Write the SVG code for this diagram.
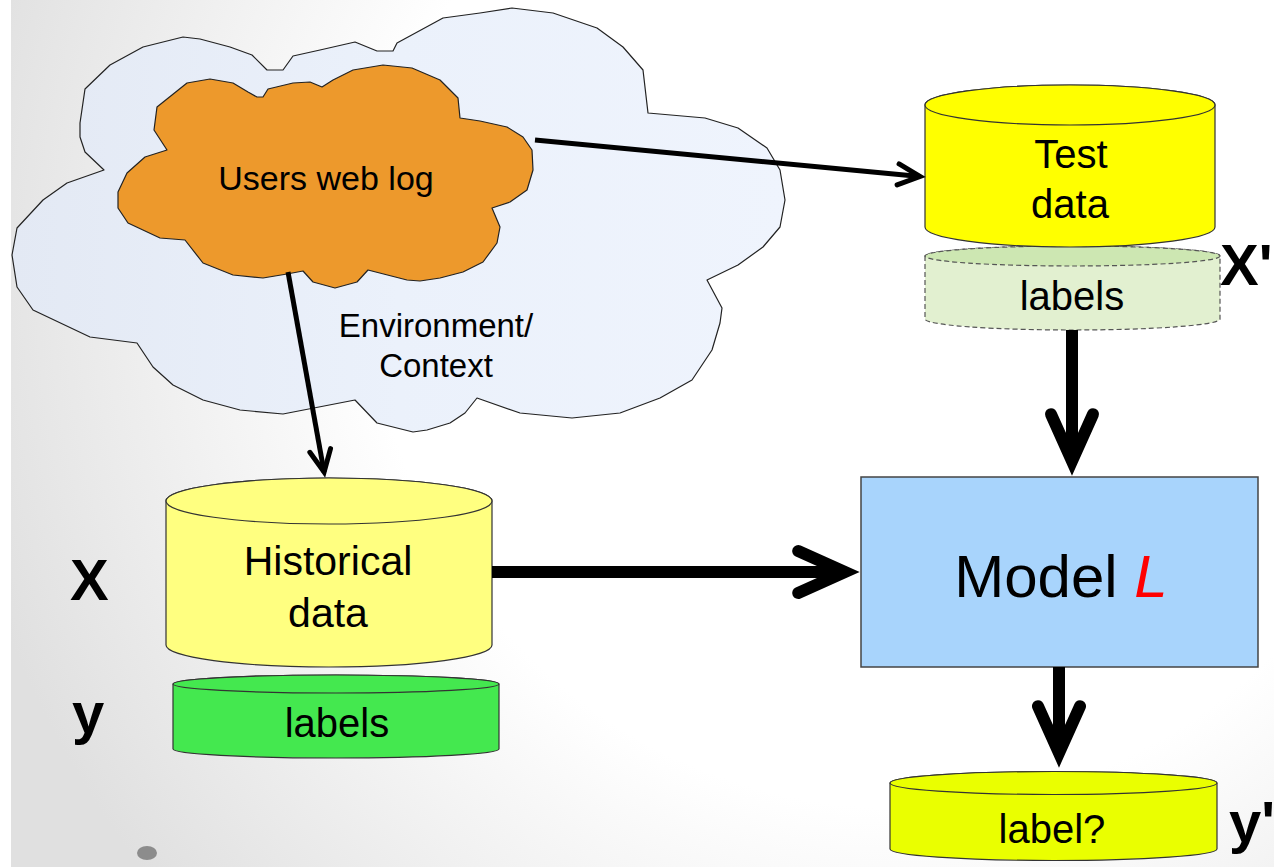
<svg xmlns="http://www.w3.org/2000/svg" width="1274" height="867" viewBox="0 0 1274 867">
  <defs>
    <radialGradient id="bg" gradientUnits="userSpaceOnUse" cx="900" cy="280" r="960">
      <stop offset="0" stop-color="#ffffff"/>
      <stop offset="0.55" stop-color="#ffffff"/>
      <stop offset="1" stop-color="#e0e0e0"/>
    </radialGradient>
    <linearGradient id="cloudFill" x1="0" y1="0" x2="1" y2="0">
      <stop offset="0" stop-color="#e3e9f4"/>
      <stop offset="0.5" stop-color="#ebf1fb"/>
      <stop offset="1" stop-color="#eff4fd"/>
    </linearGradient>
    <!-- open chevron arrowheads, drawn in stroke-width units -->
    <marker id="chevThin" markerUnits="strokeWidth" markerWidth="12" markerHeight="12" refX="0" refY="0" orient="auto" overflow="visible">
      <path d="M -4.4 -2.1 L 0 0 L -4.4 2.1" fill="none" stroke="#000" stroke-width="1" stroke-linecap="round" stroke-linejoin="miter"/>
    </marker>
    <marker id="chevThick" markerUnits="strokeWidth" markerWidth="12" markerHeight="12" refX="0" refY="0" orient="auto" overflow="visible">
      <path d="M -3.9 -1.75 L 0 0 L -3.9 1.75" fill="none" stroke="#000" stroke-width="1" stroke-linecap="round" stroke-linejoin="miter"/>
    </marker>
    <style>
      .txt { font-family: "Liberation Sans", Arial, sans-serif; fill: #000; text-anchor: middle; }
      .big { font-family: "Liberation Sans", Arial, sans-serif; font-weight: bold; fill: #000; font-size: 58px; }
      .cyl { stroke: #333; stroke-width: 1.2; }
      .thin { fill: none; stroke: #000; stroke-width: 5; marker-end: url(#chevThin); }
      .thick { fill: none; stroke: #000; stroke-width: 12; marker-end: url(#chevThick); }
    </style>
  </defs>

  <!-- backdrop -->
  <rect x="0" y="0" width="1274" height="867" fill="#ffffff"/>
  <rect x="11" y="0" width="1263" height="867" fill="url(#bg)"/>
  <ellipse cx="147" cy="853" rx="10" ry="7" fill="#8c8c8c"/>

  <!-- environment cloud -->
  <g id="environment">
    <polygon fill="url(#cloudFill)" stroke="#222" stroke-width="1.2" stroke-linejoin="round"
      points="183,37 200,39 230,47 252,55 267,70 283,70 293,56 320,50 355,42 377,51 393,51 397,43 443,18 480,13 512,8 553,13 597,28 623,47 643,70 648,113 705,118 738,128 767,148 780,170 785,200 780,227 763,247 738,265 707,280 722,308 720,323 712,350 692,380 660,398 620,413 572,418 520,413 477,398 465,413 450,423 427,430 413,432 377,423 355,400 283,414 240,410 203,400 173,385 153,367 137,343 90,337 33,310 17,287 12,255 17,228 43,200 67,183 104,170 85,152 80,137 80,123 85,89 110,65 143,47"/>
    <text class="txt" x="436" y="337" font-size="33">Environment/</text>
    <text class="txt" x="436" y="377" font-size="33">Context</text>
  </g>

  <!-- users web log cloud -->
  <g id="weblog">
    <polygon fill="#ed992c" stroke="#222" stroke-width="1.2" stroke-linejoin="round"
      points="210,79 233,83 248,92 257,97 263,97 268,89 293,83 310,82 322,87 333,80 353,70 383,65 412,68 440,80 458,98 460,118 480,121 507,127 523,137 532,150 533,170 527,190 510,202 492,208 500,227 497,243 483,262 463,272 440,278 420,281 407,280 368,270 357,282 335,288 313,282 303,271 287,274 263,278 233,275 203,263 185,240 160,238 128,223 118,208 118,192 127,173 145,157 167,150 154,130 157,107 187,83"/>
    <text class="txt" x="326" y="190" font-size="34">Users web log</text>
  </g>

  <!-- test labels (dashed, not yet known) -->
  <g id="test-labels">
    <path d="M 925 256 L 925 319 A 147.5 11 0 0 0 1220 319 L 1220 256 A 147.5 10 0 0 0 925 256 Z" fill="#e2f0d0" stroke="#555" stroke-width="1.2" stroke-dasharray="5,3"/>
    <ellipse cx="1072.5" cy="256" rx="147.5" ry="10" fill="#cde7b2" stroke="#555" stroke-width="1.2" stroke-dasharray="5,3"/>
    <text class="txt" x="1072" y="310" font-size="40">labels</text>
  </g>

  <!-- test data -->
  <g id="test-data">
    <path class="cyl" d="M 925 105 L 925 227 A 145 20 0 0 0 1215 227 L 1215 105 A 145 20 0 0 0 925 105 Z" fill="#ffff00"/>
    <ellipse class="cyl" cx="1070" cy="105" rx="145" ry="20" fill="#ffff00"/>
    <text class="txt" x="1071" y="168" font-size="40">Test</text>
    <text class="txt" x="1070" y="218" font-size="40">data</text>
  </g>
  <text class="big" x="1220" y="285">X'</text>

  <!-- historical data -->
  <g id="historical-data">
    <path class="cyl" d="M 166 501 L 166 645 A 163 22 0 0 0 492 645 L 492 501 A 163 23 0 0 0 166 501 Z" fill="#ffff80"/>
    <ellipse class="cyl" cx="329" cy="501" rx="163" ry="23" fill="#ffff80"/>
    <text class="txt" x="328" y="575" font-size="41">Historical</text>
    <text class="txt" x="328" y="627" font-size="41">data</text>
  </g>
  <text class="big" x="70" y="600">X</text>

  <!-- historical labels -->
  <g id="historical-labels">
    <path class="cyl" d="M 173 684 L 173 749 A 163 9 0 0 0 499 749 L 499 684 A 163 9 0 0 0 173 684 Z" fill="#44e84f"/>
    <ellipse class="cyl" cx="336" cy="684" rx="163" ry="9" fill="#44e84f"/>
    <text class="txt" x="337" y="737" font-size="40">labels</text>
  </g>
  <text class="big" x="72" y="733">y</text>

  <!-- model -->
  <g id="model">
    <rect x="861" y="477" width="397" height="190" fill="#a8d4fc" stroke="#444" stroke-width="1.5"/>
    <text class="txt" x="1061" y="597" font-size="60">Model <tspan fill="#ff0000" font-style="italic">L</tspan></text>
  </g>

  <!-- predicted label -->
  <g id="predicted-label">
    <path class="cyl" d="M 890 783 L 890 849 A 163.5 11.5 0 0 0 1217 849 L 1217 783 A 163.5 11.5 0 0 0 890 783 Z" fill="#eaff00"/>
    <ellipse class="cyl" cx="1053.5" cy="783" rx="163.5" ry="11.5" fill="#eaff00"/>
    <text class="txt" x="1052" y="843" font-size="40">label?</text>
  </g>
  <text class="big" x="1229" y="842">y'</text>

  <!-- connectors -->
  <g id="connectors">
    <path class="thin" d="M 535 140 L 920 176.5"/>
    <path class="thin" d="M 288 272 L 324.1 472.1"/>
    <path class="thick" d="M 492 572 L 845 572"/>
    <path class="thick" d="M 1072 330 L 1072 461"/>
    <path class="thick" d="M 1059 667 L 1059 753"/>
  </g>
</svg>
